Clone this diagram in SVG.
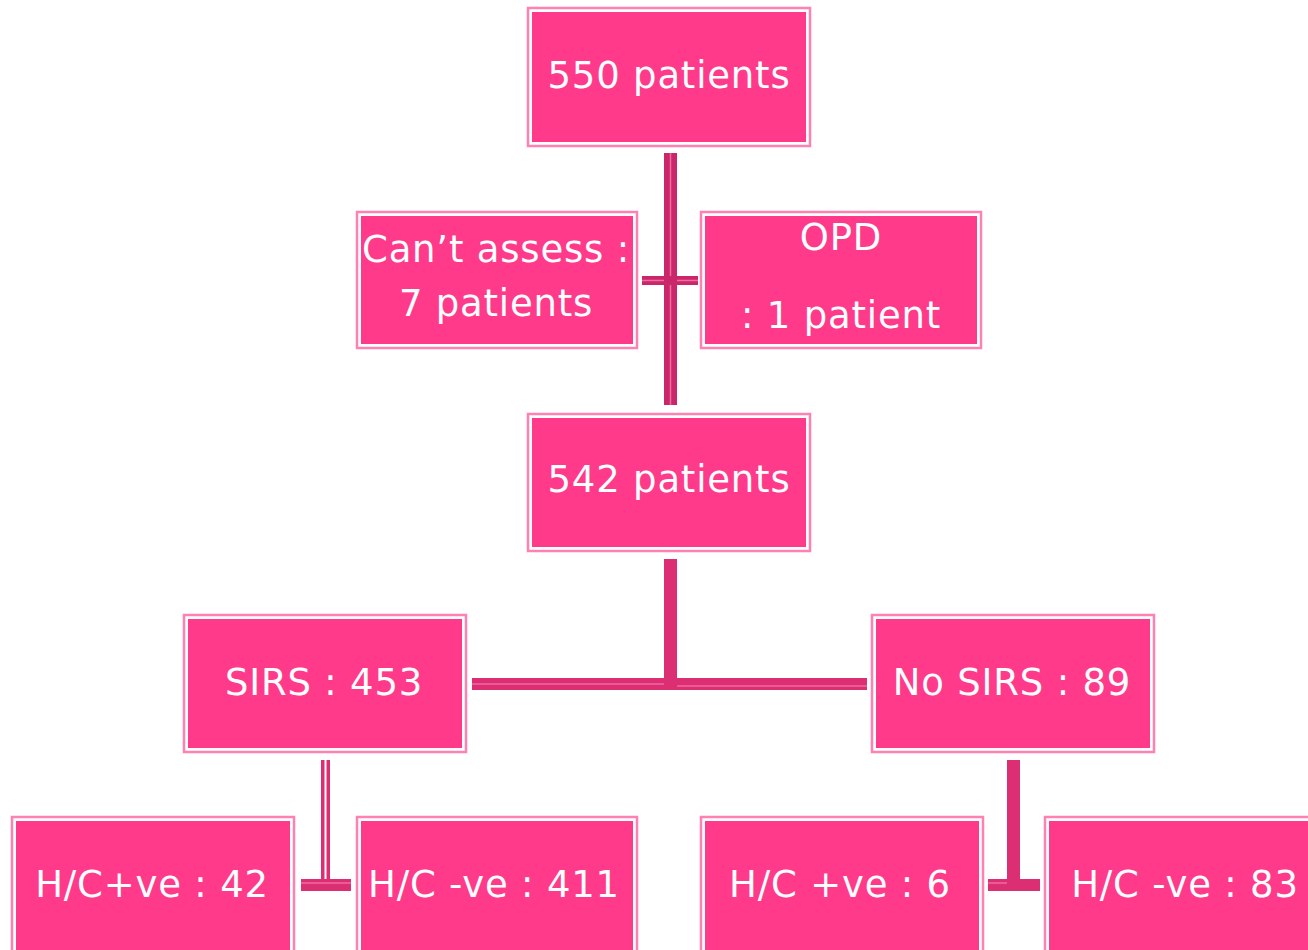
<svg xmlns="http://www.w3.org/2000/svg" width="1308" height="950" viewBox="0 0 1308 950">
<style>
.o{fill:none;stroke:#FF80B2;stroke-width:2.5}
.f{fill:#FF3A8A;stroke:#FFFFFF;stroke-width:2}
.t{font-family:"DejaVu Sans","Liberation Sans",sans-serif;font-size:37px;fill:#FFFFFF;text-anchor:middle;letter-spacing:0.8px}
.c{fill:#DC2E72}
.cd{fill:#C92769}
.hl{stroke:#F06AA0;stroke-width:1.5;fill:none}
</style>
<rect width="1308" height="950" fill="#FFFFFF"/>
<g id="connectors">
  <rect class="cd" x="664" y="153" width="13" height="252"/>
  <line class="hl" x1="670.5" y1="153" x2="670.5" y2="405"/>
  <rect class="cd" x="642" y="276" width="56" height="9"/>
  <line class="hl" x1="642" y1="280.5" x2="664" y2="280.5"/>
  <line class="hl" x1="677" y1="280.5" x2="698" y2="280.5"/>
  <rect class="c" x="664" y="559" width="13" height="131"/>
  <rect class="c" x="472" y="678" width="395" height="12"/>
  <line class="hl" x1="472" y1="684" x2="664" y2="684"/>
  <line class="hl" x1="677" y1="686" x2="867" y2="686"/>
  <rect class="c" x="321" y="760" width="9" height="125"/>
  <line x1="325.5" y1="760" x2="325.5" y2="880" stroke="#FFFFFF" stroke-width="2"/>
  <rect class="c" x="301" y="879" width="50" height="12"/>
  <line class="hl" x1="301" y1="883" x2="351" y2="883"/>
  <rect class="c" x="1007" y="760" width="13" height="127"/>
  <rect class="c" x="988" y="879" width="52" height="12"/>
  <line class="hl" x1="988" y1="883" x2="1007" y2="883"/>
</g>
<g id="n550">
  <rect class="o" x="528" y="8" width="282" height="138"/>
  <rect class="f" x="531" y="11" width="276" height="132"/>
  <text class="t" x="669" y="88">550 patients</text>
</g>
<g id="ncant">
  <rect class="o" x="357" y="212" width="280" height="136"/>
  <rect class="f" x="360" y="215" width="274" height="130"/>
  <text class="t" x="496" y="262">Can’t assess :</text>
  <text class="t" x="496" y="316">7 patients</text>
</g>
<g id="nopd">
  <rect class="o" x="701" y="212" width="280" height="136"/>
  <rect class="f" x="704" y="215" width="274" height="130"/>
  <text class="t" x="841" y="250">OPD</text>
  <text class="t" x="841" y="328">: 1 patient</text>
</g>
<g id="n542">
  <rect class="o" x="528" y="414" width="282" height="137"/>
  <rect class="f" x="531" y="417" width="276" height="131"/>
  <text class="t" x="669" y="492">542 patients</text>
</g>
<g id="nsirs">
  <rect class="o" x="184" y="615" width="282" height="137"/>
  <rect class="f" x="187" y="618" width="276" height="131"/>
  <text class="t" x="324" y="695">SIRS : 453</text>
</g>
<g id="nnosirs">
  <rect class="o" x="872" y="615" width="282" height="137"/>
  <rect class="f" x="875" y="618" width="276" height="131"/>
  <text class="t" x="1012" y="695">No SIRS : 89</text>
</g>
<g id="nhcp42">
  <rect class="o" x="12" y="817" width="282" height="150"/>
  <rect class="f" x="15" y="820" width="276" height="150"/>
  <text class="t" x="152" y="897">H/C+ve : 42</text>
</g>
<g id="nhcn411">
  <rect class="o" x="357" y="817" width="280" height="150"/>
  <rect class="f" x="360" y="820" width="274" height="150"/>
  <text class="t" x="494" y="897">H/C -ve : 411</text>
</g>
<g id="nhcp6">
  <rect class="o" x="701" y="817" width="282" height="150"/>
  <rect class="f" x="704" y="820" width="276" height="150"/>
  <text class="t" x="840" y="897">H/C +ve : 6</text>
</g>
<g id="nhcn83">
  <rect class="o" x="1045" y="817" width="282" height="150"/>
  <rect class="f" x="1048" y="820" width="276" height="150"/>
  <text class="t" x="1185" y="897">H/C -ve : 83</text>
</g>
</svg>
